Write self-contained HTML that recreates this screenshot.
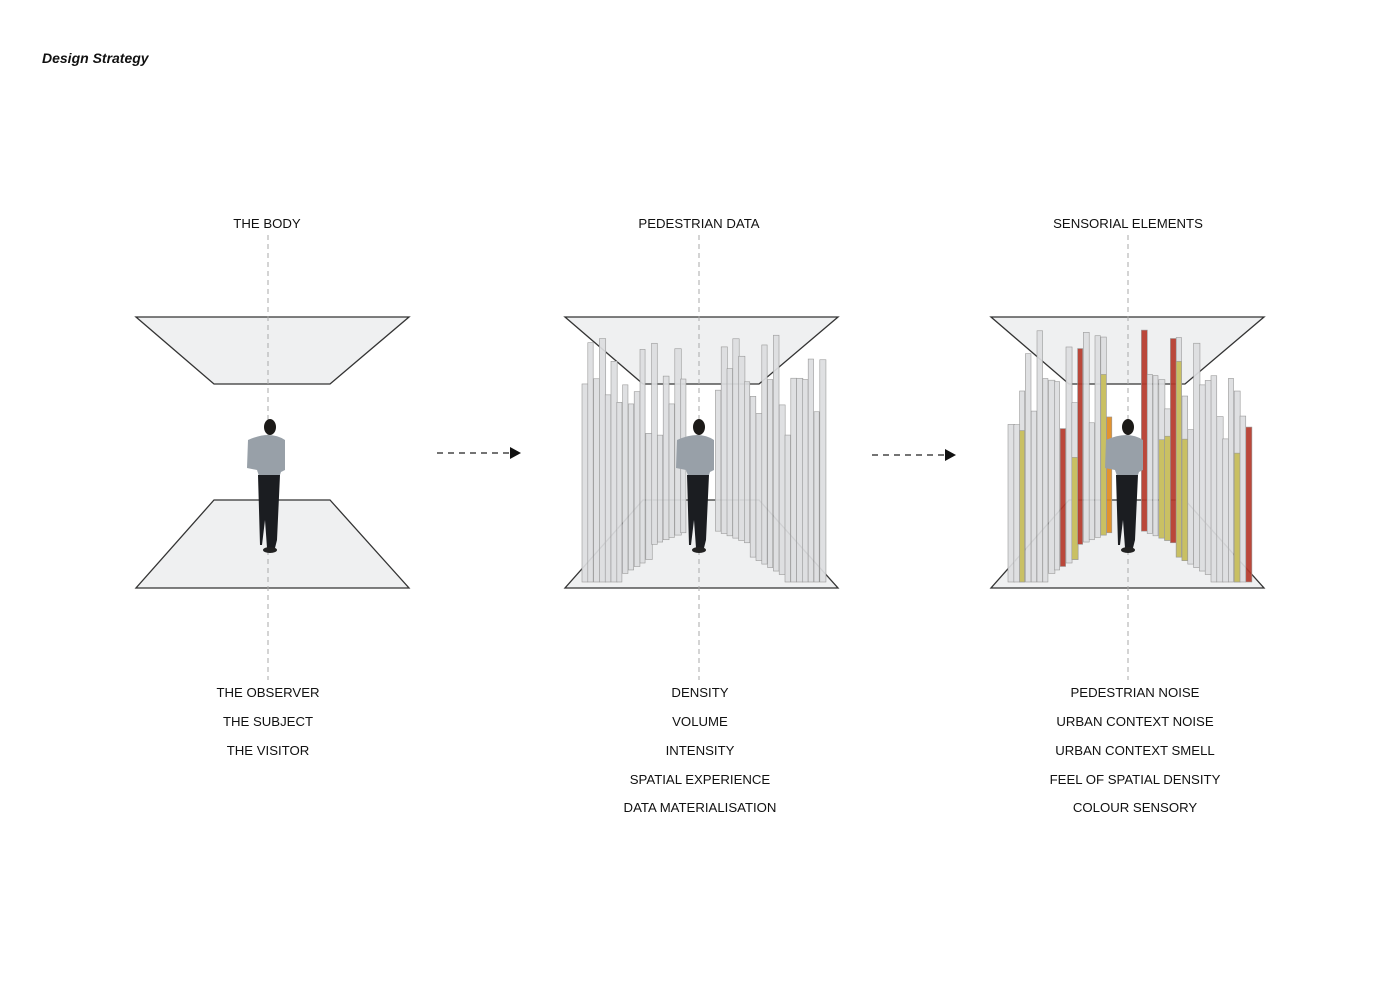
<!DOCTYPE html>
<html><head><meta charset="utf-8"><style>
body{margin:0;background:#fff;width:1400px;height:986px;overflow:hidden;font-family:"Liberation Sans",Arial,sans-serif}
svg{position:absolute;left:0;top:0}
</style></head><body>
<svg id="s" width="1400" height="986" xmlns="http://www.w3.org/2000/svg" font-family="Liberation Sans, Arial, sans-serif">
<text x="42" y="63" font-size="14" font-weight="bold" font-style="italic" fill="#111">Design Strategy</text>
<g font-size="13.2" fill="#111" text-anchor="middle">
<text x="267" y="228">THE BODY</text>
<text x="699" y="228">PEDESTRIAN DATA</text>
<text x="1128" y="228">SENSORIAL ELEMENTS</text>
<text x="268" y="697">THE OBSERVER</text>
<text x="268" y="726">THE SUBJECT</text>
<text x="268" y="755">THE VISITOR</text>
<text x="700" y="697">DENSITY</text>
<text x="700" y="726">VOLUME</text>
<text x="700" y="755">INTENSITY</text>
<text x="700" y="784">SPATIAL EXPERIENCE</text>
<text x="700" y="812">DATA MATERIALISATION</text>
<text x="1135" y="697">PEDESTRIAN NOISE</text>
<text x="1135" y="726">URBAN CONTEXT NOISE</text>
<text x="1135" y="755">URBAN CONTEXT SMELL</text>
<text x="1135" y="784">FEEL OF SPATIAL DENSITY</text>
<text x="1135" y="812">COLOUR SENSORY</text>
</g>
<g stroke="#222" stroke-dasharray="6,5" stroke-width="1.2">
<line x1="437" y1="453" x2="510" y2="453"/><line x1="872" y1="455" x2="945" y2="455"/>
</g>
<polygon points="510,447 521,453 510,459" fill="#111"/>
<polygon points="945,449 956,455 945,461" fill="#111"/>
<g id="panels"></g>
</svg>
<script>
var NS="http://www.w3.org/2000/svg",P=document.getElementById('panels');
function el(t,a,par){var e=document.createElementNS(NS,t);for(var k in a)e.setAttribute(k,a[k]);(par||P).appendChild(e);return e}
var seed=7;function rnd(){seed=(seed*9301+49297)%233280;return seed/233280}
function person(cx){var g=el('g',{});
el('ellipse',{cx:cx+7,cy:427,rx:6,ry:8,fill:'#1c1a18'},g);
el('path',{d:'M'+(cx-15)+',440 Q'+(cx+7)+',430 '+(cx+22)+',440 L'+(cx+22)+',470 L'+(cx+18)+',472 L'+(cx+17)+',475 L'+(cx-4)+',476 L'+(cx-6)+',470 L'+(cx-16)+',468 Z',fill:'#98a0a8'},g);
el('path',{d:'M'+(cx-5)+',475 L'+(cx+17)+',475 L'+(cx+14)+',540 L'+(cx+12)+',548 L'+(cx+4)+',548 L'+(cx+2)+',520 L'+(cx-1)+',545 L'+(cx-3)+',545 Z',fill:'#1b1d21'},g);
el('ellipse',{cx:cx+7,cy:550,rx:7,ry:3,fill:'#222'},g);}
function frame(ox){
el('polygon',{points:(136+ox)+',317 '+(409+ox)+',317 '+(330+ox)+',384 '+(214+ox)+',384',fill:'#eff0f1',stroke:'#333','stroke-width':1.3});
el('polygon',{points:(214+ox)+',500 '+(330+ox)+',500 '+(409+ox)+',588 '+(136+ox)+',588',fill:'#eff0f1',stroke:'#333','stroke-width':1.3});}
function tubes(ox,col){
var xs=[];for(var x=582;x<=820;x+=5.8){if(Math.abs(x-699)<15)continue;xs.push(x)}
for(var i=0;i<xs.length;i++){var x=xs[i]+ox-429;var d=Math.abs(xs[i]-700);
var bot=d>80?582:(d>50?575-(80-d)*0.6:545-(50-d)*0.4);
var top=330+rnd()*110;var w=5+rnd()*1.5;
var fill='#dcdddf';var cfill=null;if(col){var r=rnd();if(r<0.1)fill='#b5382a';else if(r<0.17)fill='#e08a1e';else if(r<0.42)cfill='#c9c063';}
el('rect',{x:x,y:top,width:w,height:bot-top,fill:fill,stroke:'#999','stroke-width':0.6,'fill-opacity':0.92});
if(cfill){var ct=top+(bot-top)*(0.1+rnd()*0.3);el('rect',{x:x,y:ct,width:w,height:bot-ct,fill:cfill,stroke:'#999','stroke-width':0.6});}}}
frame(0);frame(429);frame(855);
tubes(429,false);tubes(855,true);
[[268],[699],[1128]].forEach(function(a){el('line',{x1:a[0],y1:235,x2:a[0],y2:680,stroke:'#aaa','stroke-dasharray':'5,4','stroke-width':1})});
person(263);person(692);person(1121);
</script>
</body></html>
